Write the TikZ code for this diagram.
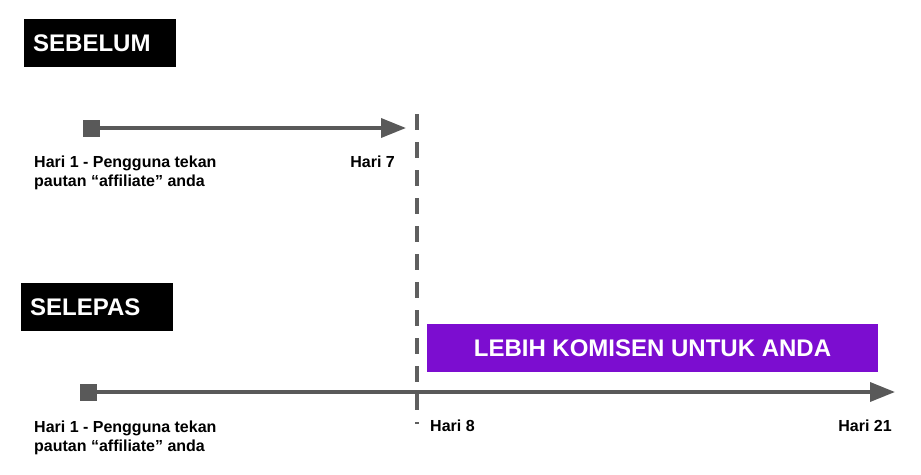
\documentclass[tikz,border=0pt]{standalone}
\usepackage{fontspec}
\setmainfont{Liberation Sans}
\usetikzlibrary{arrows.meta}
\definecolor{tlgray}{HTML}{595959}
\definecolor{dashgray}{HTML}{5F5F5F}
\definecolor{komisen}{RGB}{124,13,208}
\begin{document}
\begin{tikzpicture}[x=1pt,y=-1pt,
  lbl/.style={font=\bfseries\fontsize{16}{19.5}\selectfont, inner sep=0pt, align=left},
  tagbox/.style={fill=black, text=white, font=\bfseries\fontsize{24}{28}\selectfont,
    inner xsep=9pt, inner ysep=0pt, text width=134pt, align=left,
    minimum height=48pt, text height=17.5pt, text depth=0pt, anchor=north west},
  sq/.style={fill=tlgray, draw=none, minimum size=17pt, inner sep=0pt},
  tline/.style={draw=tlgray, line width=3.6pt, -{Triangle[length=25pt,width=19pt]}},
  dashline/.style={draw=dashgray, line width=4.3pt, dash pattern=on 16pt off 12pt},
  banner/.style={fill=komisen, text=white, font=\bfseries\fontsize{24}{28}\selectfont,
    minimum width=451pt, minimum height=48pt, inner sep=0pt, text height=17.5pt, text depth=0pt}
]
\useasboundingbox (0,0) rectangle (921,474);

% SEBELUM
\node[tagbox] (before) at (24,19) {SEBELUM};
\node[sq] (s1) at (91,128) {};
\coordinate (e1) at (406,128);
\draw[tline] (s1.east) -- (e1);
\node[lbl, anchor=base west] (l1) at (34,186.5) {Hari 1 - Pengguna tekan\\pautan “affiliate” anda};
\node[lbl, anchor=base east] (h7) at (395,167) {Hari 7};

% dashed divider
\coordinate (d1) at (417,114);
\coordinate (d2) at (417,424);
\draw[dashline] (d1) -- (d2);

% SELEPAS
\node[tagbox] (after) at (21,283) {SELEPAS};
\node[banner] (more) at (652.5,348) {LEBIH KOMISEN UNTUK ANDA};
\node[sq] (s2) at (88,392) {};
\coordinate (e2) at (895,392);
\draw[tline] (s2.east) -- (e2);
\node[lbl, anchor=base west] (l2) at (34,451.5) {Hari 1 - Pengguna tekan\\pautan “affiliate” anda};
\node[lbl, anchor=base west] (h8) at (430,431) {Hari 8};
\node[lbl, anchor=base east] (h21) at (892,431) {Hari 21};
\end{tikzpicture}
\end{document}
